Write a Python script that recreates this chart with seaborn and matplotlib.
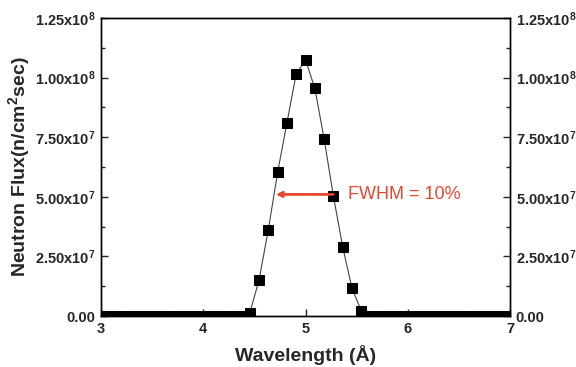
import numpy as np
import matplotlib
matplotlib.use("Agg")
import matplotlib.pyplot as plt
from matplotlib.ticker import FuncFormatter, MultipleLocator
import seaborn as sns
import pandas as pd

# Data
wavelength = list(np.linspace(3, 7, 45))
flux = [0]*16 + [1.2e6, 1.5e7, 3.62e7, 6.02e7, 8.1e7, 1.016e8, 1.074e8, 9.56e7,
                 7.44e7, 5.03e7, 2.91e7, 1.16e7, 2.2e6] + [0]*16
x_ticks = [3, 4, 5, 6, 7]
y_ticks = [0, 2.5e7, 5e7, 7.5e7, 1e8, 1.25e8]
arrow_x = [4.71, 5.27]
arrow_y = 5.1e7
annot = "FWHM = 10%"

sns.set_style("ticks")
plt.rcParams['font.family'] = ['Liberation Sans', 'DejaVu Sans']
plt.rcParams['mathtext.fontset'] = 'custom'
plt.rcParams['mathtext.rm'] = 'Liberation Sans:bold'
plt.rcParams['mathtext.bf'] = 'Liberation Sans:bold'
plt.rcParams['mathtext.default'] = 'rm'

fig = plt.figure(figsize=(5.76, 3.67), dpi=100)
ax = fig.add_axes([101/576, 1-316/367, 409/576, 298/367])

df = pd.DataFrame({"w": wavelength, "f": flux})
sns.lineplot(data=df, x="w", y="f", ax=ax, color="#444444", lw=0.8,
             marker="s", markersize=7, markerfacecolor="black",
             markeredgecolor="black", clip_on=True)

ax.set_xlim(3, 7)
ax.set_ylim(0, 1.25e8)
ax.set_xticks(x_ticks)
ax.set_yticks(y_ticks)
ax.xaxis.set_minor_locator(MultipleLocator(0.5))
ax.yaxis.set_minor_locator(MultipleLocator(1.25e7))


def fmt(v, pos):
    if v == 0:
        return "0.00"
    e = int(np.floor(np.log10(v)))
    m = v / 10**e
    return r"$%.2f\mathrm{x}10^{%d}$" % (m, e)

ax.yaxis.set_major_formatter(FuncFormatter(fmt))
ax.xaxis.set_major_formatter(FuncFormatter(lambda v, p: "%d" % v))

ax.tick_params(axis="both", which="major", direction="in", length=5, width=1,
               labelsize=10.5, pad=4)
ax.tick_params(axis="both", which="minor", direction="in", length=3, width=1)
ax.tick_params(axis="x", which="both", top=False)

ax2 = ax.twinx()
ax2.set_ylim(0, 1.25e8)
ax2.set_yticks(y_ticks)
ax2.yaxis.set_minor_locator(MultipleLocator(1.25e7))
ax2.yaxis.set_major_formatter(FuncFormatter(fmt))
ax2.tick_params(axis="y", which="major", direction="in", length=5, width=1,
                labelsize=10.5, pad=4)
ax2.tick_params(axis="y", which="minor", direction="in", length=3, width=1)

for lab in ax.get_xticklabels() + ax.get_yticklabels() + ax2.get_yticklabels():
    lab.set_fontweight("bold")

for a in (ax, ax2):
    for s in a.spines.values():
        s.set_linewidth(1)
        s.set_color("black")

ax.set_xlabel("Wavelength (Å)", fontsize=14, fontweight="bold", labelpad=7)
ax.set_ylabel(r"Neutron Flux(n/cm$^{2}$sec)", fontsize=14, fontweight="bold", labelpad=2)

ax.annotate("", xy=(arrow_x[0], arrow_y), xytext=(arrow_x[1], arrow_y),
            arrowprops=dict(arrowstyle="->", color="#e8472f", lw=2,
                            mutation_scale=8, shrinkA=0, shrinkB=0))
ax.text(5.42, arrow_y, annot, color="#e8472f", fontsize=13, va="center", ha="left")

fig.savefig("out.png", dpi=100)
